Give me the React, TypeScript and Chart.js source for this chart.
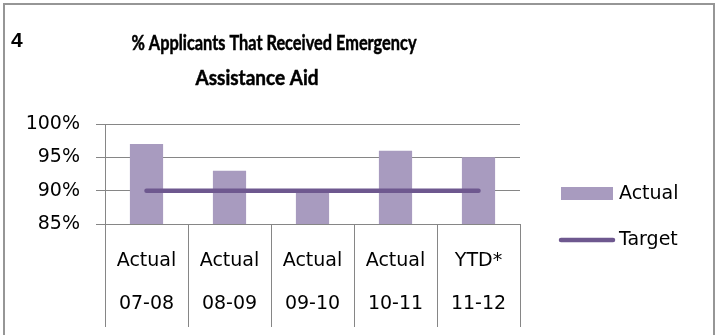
import React, { useEffect, useRef } from "react";
import { Chart, registerables } from "chart.js";

Chart.register(...registerables);

const periods = ["Actual", "Actual", "Actual", "Actual", "YTD*"];
const years = ["07-08", "08-09", "09-10", "10-11", "11-12"];
const actualValues = [97, 93, 90, 96, 95];
const targetValues = [90, 90, 90, 90, 90];
const titleLines = ["% Applicants That Received Emergency", "Assistance Aid"];
const chartNumber = "4";
const yTicks = { min: 85, max: 100, step: 5 };

const BAR_COLOR = "rgb(168,155,191)";
const LINE_COLOR = "rgb(110,88,143)";
const GRID = "rgb(134,134,134)";
const LABEL_FONT = "DejaVu Sans";
const TITLE_FONT = "Lato, 'Liberation Sans', sans-serif";

const decorPlugin = {
  id: "decor",
  beforeDraw(chart: any) {
    const ctx = chart.ctx;
    ctx.save();
    ctx.fillStyle = "#ffffff";
    ctx.fillRect(0, 0, chart.width, chart.height);
    ctx.strokeStyle = "rgb(150,150,150)";
    ctx.lineWidth = 2;
    ctx.strokeRect(4, 4, 710, 400);
    ctx.restore();
  },
  afterDraw(chart: any) {
    const ctx = chart.ctx;
    ctx.save();
    ctx.fillStyle = "#000";
    ctx.strokeStyle = "#000";
    ctx.lineWidth = 0.5;
    ctx.textBaseline = "alphabetic";
    ctx.font = `bold 21px 'Liberation Sans', sans-serif`;
    ctx.textAlign = "left";
    ctx.fillText(chartNumber, 11, 47);
    ctx.font = `bold 20.5px ${TITLE_FONT}`;
    ctx.textAlign = "center";
    ctx.fillText(titleLines[0], 274, 50, 285);
    ctx.strokeText(titleLines[0], 274, 50, 285);
    ctx.fillText(titleLines[1], 257, 85, 123);
    ctx.strokeText(titleLines[1], 257, 85, 123);

    // legend
    const ds = chart.data.datasets;
    ctx.font = `19px ${LABEL_FONT}`;
    ctx.textAlign = "left";
    ctx.textBaseline = "middle";
    ctx.fillStyle = ds[0].backgroundColor;
    ctx.fillRect(561, 187, 52, 13);
    ctx.fillStyle = "#000";
    ctx.fillText(ds[0].label, 619, 194);
    ctx.strokeStyle = ds[1].borderColor;
    ctx.lineWidth = 4.5;
    ctx.lineCap = "round";
    ctx.beginPath();
    ctx.moveTo(561, 240);
    ctx.lineTo(613, 240);
    ctx.stroke();
    ctx.fillText(ds[1].label, 619, 240);
    ctx.restore();
  },
};

export default function App() {
  const ref = useRef<HTMLCanvasElement>(null);
  useEffect(() => {
    if (!ref.current) return;
    const labels = periods.map((p, i) => [p, years[i]]);
    const chart = new Chart(ref.current, {
      data: {
        labels,
        datasets: [
          {
            type: "bar",
            label: "Actual",
            data: actualValues,
            backgroundColor: BAR_COLOR,
            categoryPercentage: 1,
            barPercentage: 0.4,
            order: 2,
          },
          {
            type: "line",
            label: "Target",
            data: targetValues,
            borderColor: LINE_COLOR,
            backgroundColor: LINE_COLOR,
            borderWidth: 4.5,
            borderCapStyle: "round",
            pointRadius: 0,
            order: 1,
          },
        ],
      } as any,
      options: {
        animation: false,
        responsive: false,
        maintainAspectRatio: false,
        layout: { padding: { left: 0, top: 124, right: 198, bottom: 0 } },
        plugins: { legend: { display: false }, title: { display: false }, tooltip: { enabled: false } },
        scales: {
          x: {
            type: "category",
            offset: true,
            grid: {
              offset: true,
              drawOnChartArea: false,
              drawTicks: true,
              tickLength: 103,
              color: GRID,
              lineWidth: 1,
            },
            border: { display: true, color: GRID, width: 1 },
            ticks: {
              color: "#000",
              padding: -87.5,
              maxRotation: 0,
              autoSkip: false,
              font: { family: LABEL_FONT, size: 19, lineHeight: 43 / 19 },
            },
            afterFit(scale: any) {
              scale.height = 111;
            },
          },
          y: {
            min: yTicks.min,
            max: yTicks.max,
            grid: { color: GRID, lineWidth: 1, tickLength: 9, drawTicks: true },
            border: { display: true, color: GRID, width: 1 },
            ticks: {
              stepSize: yTicks.step,
              color: "#000",
              padding: 16,
              font: { family: LABEL_FONT, size: 19 },
              callback: (v: any) => `${v}%`,
            },
            afterFit(scale: any) {
              scale.width = 105;
            },
          },
        },
      } as any,
      plugins: [decorPlugin],
    });
    return () => chart.destroy();
  }, []);
  return (
    <div style={{ position: "fixed", left: 0, top: 0, width: 718, height: 335, background: "#fff" }}>
      <canvas ref={ref} width={718} height={335} style={{ width: 718, height: 335, display: "block" }} />
    </div>
  );
}
